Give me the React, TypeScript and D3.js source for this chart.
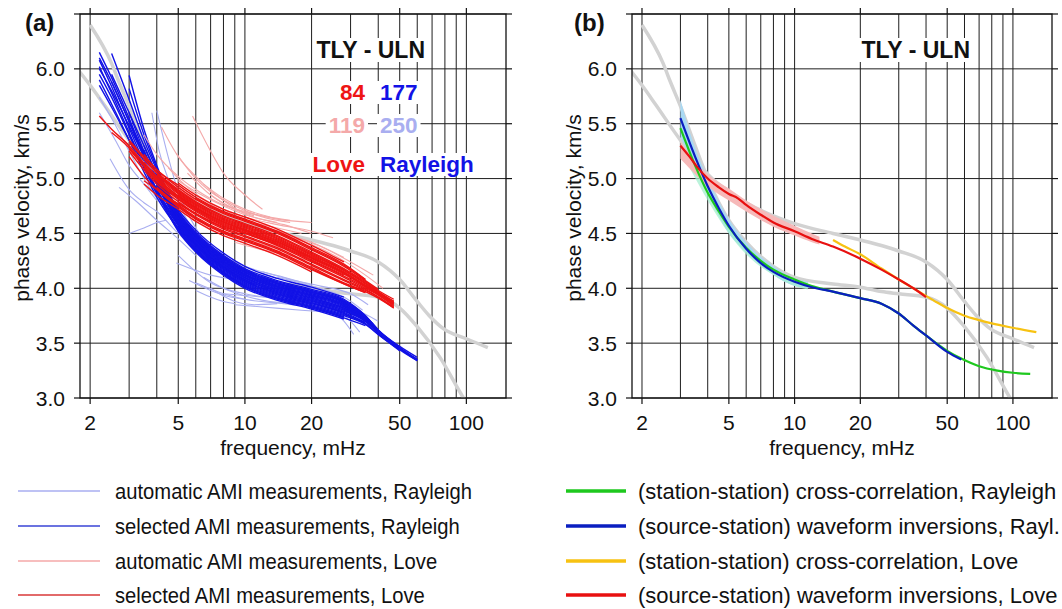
import React, { useEffect, useRef } from "react";
import * as d3 from "d3";

type Pt = [number, number];

// ---------- axes ----------
const freqDomain: [number, number] = [1.8, 151];
const velDomain: [number, number] = [3.0, 6.5];
const xMajor = [2, 5, 10, 20, 50, 100];
const xGrid = [2, 3, 4, 5, 6, 7, 8, 9, 10, 20, 30, 40, 50, 60, 70, 80, 90, 100];
const yGrid = [3.0, 3.5, 4.0, 4.5, 5.0, 5.5, 6.0, 6.5];
const yLabeled = [3.0, 3.5, 4.0, 4.5, 5.0, 5.5, 6.0];

// ---------- reference (gray) curves ----------
const refRayleigh: Pt[] = [
  [2, 6.4], [2.5, 6.05], [2.7, 5.88], [3, 5.66], [3.5, 5.3], [4, 5.0], [5, 4.62], [6, 4.42],
  [8, 4.2], [10, 4.1], [15, 4.04], [20, 4.01], [25, 3.97], [30, 3.95], [40, 3.92], [50, 3.82],
  [60, 3.65], [76, 3.37], [97, 3.0], [102, 2.93],
];
const refLove: Pt[] = [
  [1.75, 6.0], [2, 5.85], [2.3, 5.68], [3, 5.35], [3.5, 5.18], [4, 5.04], [5, 4.88], [6, 4.78],
  [8, 4.66], [10, 4.59], [15, 4.5], [20, 4.44], [25, 4.39], [30, 4.34], [40, 4.24], [50, 4.08],
  [60, 3.88], [68, 3.75], [79, 3.63], [100, 3.54], [125, 3.46],
];

// ---------- panel (a): selected AMI, Rayleigh (grid-based: [startIndex, ...values]) ----------
const rayGrid = [2.2, 2.5, 3, 3.5, 4, 5, 6, 8, 10, 14, 20, 28, 35, 40, 50, 60];
const selectedRayleigh: number[][] = [
  [0, 6.15, 5.92, 5.55, 5.22, 4.97, 4.64, 4.45, 4.24, 4.12, 4.01, 3.93, 3.84, 3.72, 3.61, 3.45, 3.35],
  [0, 6.08, 5.84, 5.46, 5.15, 4.9, 4.6, 4.41, 4.2, 4.08, 3.97, 3.89, 3.8, 3.7, 3.6, 3.45],
  [0, 6.1, 5.88, 5.52, 5.24, 5.0, 4.67, 4.48, 4.27, 4.15, 4.04, 3.96, 3.87, 3.73, 3.61],
  [0, 6.02, 5.78, 5.42, 5.12, 4.88, 4.57, 4.38, 4.17, 4.05, 3.94, 3.86, 3.77, 3.68],
  [0, 5.9, 5.68, 5.35, 5.06, 4.83, 4.54, 4.35, 4.14, 4.02, 3.91, 3.83, 3.74],
  [1, 6.14, 5.72, 5.35, 5.08, 4.7, 4.51, 4.3, 4.18, 4.07, 3.99, 3.9, 3.75, 3.62, 3.46],
  [2, 5.94, 5.45, 5.12, 4.65, 4.46, 4.25, 4.13, 4.02, 3.94, 3.85, 3.72, 3.61, 3.46, 3.35],
  [0, 5.95, 5.74, 5.4, 5.1, 4.86, 4.55, 4.36, 4.15, 4.03, 3.92, 3.84, 3.75, 3.67, 3.58, 3.43],
  [1, 5.95, 5.6, 5.3, 5.03, 4.68, 4.49, 4.28, 4.16, 4.05, 3.97, 3.88, 3.74, 3.62],
  [2, 5.82, 5.4, 5.1, 4.72, 4.53, 4.32, 4.2, 4.09, 4.01, 3.92],
  [0, 6.0, 5.8, 5.48, 5.2, 4.95, 4.62, 4.43, 4.22, 4.1, 3.99, 3.91, 3.82, 3.71, 3.6, 3.45, 3.34],
  [2, 5.6, 5.25, 4.98, 4.59, 4.4, 4.19, 4.07, 3.96, 3.88, 3.79, 3.7, 3.59, 3.44],
  [3, 5.3, 5.04, 4.66, 4.47, 4.26, 4.14, 4.03, 3.95, 3.86, 3.73, 3.61, 3.46],
  [3, 5.12, 4.88, 4.52, 4.33, 4.12, 4.0, 3.89, 3.81, 3.72],
  [4, 5.05, 4.69, 4.5, 4.29, 4.17, 4.06, 3.98, 3.89, 3.75, 3.62, 3.47, 3.37],
  [4, 4.88, 4.53, 4.34, 4.13, 4.01, 3.9, 3.82, 3.73, 3.66],
  [2, 5.52, 5.2, 4.95, 4.63, 4.44, 4.23, 4.11, 4.0, 3.92, 3.83, 3.71, 3.6, 3.45, 3.35],
  [1, 5.88, 5.52, 5.22, 4.97, 4.65, 4.46, 4.25, 4.13, 4.02, 3.94, 3.85, 3.72, 3.61, 3.46],
  [3, 5.26, 4.99, 4.67, 4.48, 4.27, 4.15, 4.04, 3.96, 3.87, 3.73, 3.61],
  [4, 5.0, 4.64, 4.45, 4.24, 4.12, 4.01, 3.93, 3.84, 3.72, 3.6, 3.45, 3.35],
  [5, 4.68, 4.49, 4.28, 4.16, 4.05, 3.97, 3.88, 3.74, 3.62],
  [5, 4.56, 4.37, 4.16, 4.04, 3.93, 3.85, 3.76, 3.68, 3.58, 3.44],
  [2, 5.4, 5.12, 4.9, 4.58, 4.39, 4.18, 4.06, 3.95, 3.87, 3.78],
  [0, 5.85, 5.65, 5.35, 5.1, 4.89, 4.58, 4.39, 4.18, 4.06, 3.95, 3.87, 3.78, 3.69],
  [3, 5.18, 4.95, 4.62, 4.43, 4.22, 4.1, 3.99, 3.91, 3.82, 3.71, 3.6, 3.45, 3.35],
  [4, 4.97, 4.6, 4.41, 4.2, 4.08, 3.97, 3.89, 3.8, 3.7, 3.6, 3.44, 3.34],
  [5, 4.54, 4.35, 4.14, 4.02, 3.91, 3.83, 3.74],
  [4, 4.93, 4.61, 4.42, 4.21, 4.09, 3.98, 3.9, 3.81, 3.71, 3.6, 3.45],
];

// ---------- panel (a): selected AMI, Love ----------
const loveGrid = [2.2, 2.5, 3, 3.5, 4, 5, 6, 8, 10, 14, 20, 28, 35, 40, 47];
const selectedLove: number[][] = [
  [0, 5.57, 5.45, 5.3, 5.14, 5.01, 4.84, 4.73, 4.6, 4.53, 4.42, 4.28, 4.14, 4.02, 3.95, 3.86],
  [2, 5.33, 5.18, 5.05, 4.89, 4.78, 4.65, 4.58, 4.47, 4.32, 4.17, 4.05, 3.97, 3.88],
  [2, 5.25, 5.08, 4.95, 4.79, 4.68, 4.55, 4.48, 4.37, 4.22, 4.08, 3.99, 3.92, 3.83],
  [3, 5.22, 5.08, 4.94, 4.83, 4.7, 4.63, 4.52, 4.37, 4.22, 4.08],
  [2, 5.2, 5.02, 4.9, 4.74, 4.63, 4.5, 4.43, 4.32, 4.17, 4.04, 3.96],
  [4, 5.03, 4.87, 4.76, 4.63, 4.56, 4.45, 4.3, 4.16, 4.04, 3.96, 3.87],
  [3, 5.1, 4.97, 4.81, 4.7, 4.57, 4.5, 4.39, 4.24, 4.1, 4.0, 3.94, 3.85],
  [2, 5.35, 5.2, 5.08, 4.92, 4.81, 4.68, 4.61, 4.5, 4.35, 4.2, 4.07, 3.99],
  [4, 4.92, 4.76, 4.65, 4.52, 4.45, 4.34, 4.19, 4.05, 3.97, 3.91, 3.82],
  [5, 4.85, 4.74, 4.61, 4.54, 4.43, 4.28, 4.14, 4.02, 3.95, 3.87],
  [3, 4.95, 4.85, 4.72, 4.61, 4.48, 4.41, 4.3, 4.15],
  [5, 4.96, 4.85, 4.72, 4.65, 4.54, 4.39, 4.24],
  [2, 5.28, 5.12, 5.0, 4.84, 4.73, 4.6, 4.53, 4.42, 4.27, 4.13, 4.02, 3.95, 3.86],
  [3, 5.18, 5.06, 4.9, 4.79, 4.66, 4.59, 4.48, 4.33, 4.18, 4.06, 3.98, 3.9],
  [5, 4.78, 4.67, 4.54, 4.47, 4.36, 4.21, 4.07, 3.98, 3.92, 3.82],
  [4, 5.04, 4.88, 4.77, 4.64, 4.57, 4.46, 4.31, 4.17],
  [2, 5.27, 5.11, 4.98, 4.82, 4.71, 4.58, 4.51, 4.4, 4.25, 4.11, 4.01, 3.94, 3.84],
  [6, 4.82, 4.69, 4.62, 4.51, 4.36, 4.21, 4.08],
  [4, 4.91, 4.75, 4.64, 4.51, 4.44, 4.33, 4.18, 4.04, 3.96],
  [3, 5.15, 5.02, 4.86, 4.75, 4.62, 4.55, 4.44, 4.29, 4.15, 4.03, 3.96, 3.88],
  [3, 4.98, 4.9, 4.77, 4.68, 4.56, 4.5, 4.4],
  [1, 5.42, 5.28, 5.12, 4.99, 4.83, 4.72, 4.59, 4.52, 4.41, 4.26, 4.12],
];

// ---------- panel (a): automatic AMI, Rayleigh ----------
const autoRayleigh: Pt[][] = [
  [[2.2, 5.74], [2.5, 5.55], [3, 5.25], [3.5, 5.0], [4, 4.82], [5, 4.55]],
  [[2.46, 5.18], [3, 4.9], [3.5, 4.78], [4, 4.7], [5, 4.5], [6, 4.35]],
  [[4, 5.62], [4.5, 5.2], [5, 4.88], [6, 4.55], [8, 4.27], [10, 4.14]],
  [[3, 4.5], [3.5, 4.55], [4, 4.6], [4.4, 4.62]],
  [[2.7, 4.92], [3.2, 4.8], [4, 4.62], [5, 4.45], [6, 4.3]],
  [[4.9, 4.23], [7, 4.12], [10, 4.07], [15, 4.03], [21, 4.0]],
  [[5.6, 4.07], [7, 3.98], [8.6, 3.92], [10, 3.9]],
  [[6, 4.05], [8, 3.95], [10, 3.9], [15, 3.86], [20, 3.83], [30, 3.8]],
  [[5, 4.3], [7, 4.05], [10, 3.95], [15, 3.9], [20, 3.86], [28, 3.8], [35, 3.72]],
  [[7, 4.0], [9, 3.88], [11, 3.85], [14, 3.86]],
  [[8, 3.95], [12, 3.92], [20, 3.87], [30, 3.82], [40, 3.7]],
  [[9, 3.85], [12, 3.83], [18, 3.8], [25, 3.78]],
  [[5, 4.55], [6, 4.35], [8, 4.2], [10, 4.12], [14, 4.05], [20, 3.98], [28, 3.9]],
  [[4.5, 4.7], [5, 4.6], [7, 4.36], [10, 4.2], [15, 4.1], [20, 4.03]],
  [[12, 4.15], [16, 4.08], [22, 4.02], [30, 3.95], [36, 3.85]],
  [[25, 3.8], [28, 3.7], [31, 3.58]],
  [[20, 3.88], [26, 3.8], [30, 3.7], [33, 3.6]],
  [[3.8, 5.6], [4.1, 5.25], [4.5, 5.0], [5, 4.78], [6, 4.5], [7, 4.35]],
  [[2.2, 5.6], [2.6, 5.35], [3, 5.12], [3.5, 4.95], [4, 4.8]],
  [[6.5, 4.1], [8, 4.0], [10, 3.93], [13, 3.88], [17, 3.86]],
  [[10, 4.0], [15, 3.93], [20, 3.88], [30, 3.8], [38, 3.68]],
  [[6, 3.98], [7, 3.92], [8, 3.88], [9, 3.86]],
  [[14, 4.1], [20, 4.02], [28, 3.92], [34, 3.8]],
  [[3.2, 5.3], [3.6, 5.05], [4, 4.85], [5, 4.6]],
];

// ---------- panel (a): automatic AMI, Love ----------
const autoLove: Pt[][] = [
  [[5.8, 5.57], [7, 5.25], [8, 5.05], [10, 4.85], [12, 4.72]],
  [[4.2, 5.47], [5, 5.2], [6, 5.02], [8, 4.8], [10, 4.68], [14, 4.6]],
  [[4.9, 5.23], [6, 5.0], [7, 4.88], [9, 4.75], [12, 4.65], [16, 4.6]],
  [[3.5, 5.4], [4, 5.22], [5, 5.02], [6, 4.9], [8, 4.76], [10, 4.7], [14, 4.63], [20, 4.6]],
  [[5, 4.98], [6, 4.88], [8, 4.75], [10, 4.67], [15, 4.58], [20, 4.5]],
  [[6, 4.85], [8, 4.7], [10, 4.62], [14, 4.55], [18, 4.5]],
  [[4.5, 5.1], [5, 5.0], [6, 4.86], [8, 4.72], [10, 4.62], [15, 4.5], [20, 4.42], [28, 4.28]],
  [[7, 4.85], [9, 4.72], [12, 4.66], [16, 4.62]],
  [[8, 4.72], [10, 4.65], [14, 4.58], [20, 4.52], [25, 4.46]],
  [[10, 4.45], [14, 4.38], [20, 4.28], [28, 4.16], [35, 4.05]],
  [[9, 4.42], [12, 4.35], [16, 4.3], [22, 4.22]],
  [[6, 4.62], [8, 4.52], [10, 4.45], [14, 4.36]],
  [[12, 4.55], [16, 4.48], [22, 4.38], [30, 4.24], [38, 4.12]],
  [[3, 5.3], [3.5, 5.15], [4, 5.05], [5, 4.9], [6, 4.8]],
  [[5.5, 5.05], [7, 4.85], [9, 4.72], [11, 4.66]],
  [[14, 4.5], [20, 4.4], [28, 4.25], [35, 4.12], [42, 4.0]],
  [[6.5, 4.95], [8, 4.82], [10, 4.72], [13, 4.65]],
  [[20, 4.2], [25, 4.12], [30, 4.05]],
];

// ---------- panel (b) ----------
const ccRayleigh: Pt[] = [
  [3, 5.46], [3.5, 5.12], [4, 4.87], [4.5, 4.7], [5, 4.56], [6, 4.37], [7, 4.25], [8, 4.17],
  [10, 4.08], [12, 4.02], [15, 3.97], [20, 3.91], [25, 3.86], [30, 3.77], [35, 3.66], [40, 3.57],
  [50, 3.43], [58, 3.36], [70, 3.29], [85, 3.25], [100, 3.23], [120, 3.22],
];
const wfRayleigh: Pt[] = [
  [3, 5.55], [3.5, 5.2], [4, 4.93], [4.5, 4.73], [5, 4.57], [6, 4.36], [7, 4.23], [8, 4.15],
  [10, 4.06], [12, 4.01], [15, 3.97], [20, 3.91], [25, 3.86], [30, 3.77], [35, 3.66], [40, 3.57],
  [50, 3.42], [58, 3.35],
];
const ccLove: Pt[] = [
  [15, 4.44], [17, 4.38], [20, 4.31], [25, 4.18], [30, 4.08], [35, 4.0], [40, 3.93], [45, 3.87],
  [50, 3.82], [60, 3.75], [70, 3.71], [80, 3.68], [100, 3.64], [128, 3.6],
];
const wfLove: Pt[] = [
  [3, 5.3], [3.3, 5.2], [3.6, 5.1], [4, 5.0], [4.5, 4.92], [5, 4.86], [5.5, 4.82], [6, 4.76],
  [7, 4.67], [8, 4.6], [10, 4.52], [12, 4.45], [15, 4.38], [20, 4.27], [25, 4.17], [30, 4.08],
  [35, 4.0], [40, 3.92],
];
// uncertainty bands
const bandRayFreq = [3, 3.5, 4, 5, 6, 8, 10, 11.5];
const bandRayUpper = [5.72, 5.28, 5.0, 4.63, 4.42, 4.2, 4.09, 4.06];
const bandRayLower = [5.38, 5.1, 4.86, 4.5, 4.33, 4.12, 4.02, 4.0];
const bandCcFreq = [3.3, 4, 5, 6, 8, 10, 11.5];
const bandCcUpper = [5.25, 4.9, 4.58, 4.39, 4.18, 4.08, 4.05];
const bandCcLower = [5.1, 4.8, 4.5, 4.31, 4.12, 4.02, 3.99];
const bandLoveFreq = [3, 3.5, 4, 5, 6, 8, 10, 12, 13];
const bandLoveUpper = [5.34, 5.16, 5.04, 4.91, 4.8, 4.66, 4.57, 4.5, 4.47];
const bandLoveLower = [5.18, 5.04, 4.93, 4.8, 4.7, 4.56, 4.48, 4.42, 4.4];

// ---------- labels ----------
const stationPair = "TLY - ULN";
const countsSelected = ["84", "177"];
const countsAuto = ["119", "250"];
const waveTypes = ["Love", "Rayleigh"];
const legendLeft = [
  "automatic AMI measurements, Rayleigh",
  "selected AMI measurements, Rayleigh",
  "automatic AMI measurements, Love",
  "selected AMI measurements, Love",
];
const legendRight = [
  "(station-station) cross-correlation, Rayleigh",
  "(source-station) waveform inversions, Rayl.",
  "(station-station) cross-correlation, Love",
  "(source-station) waveform inversions, Love",
];

const C = {
  selR: "#1212e6",
  autoR: "#a9aef0",
  selL: "#ee1414",
  autoL: "#f4a9a9",
  gray: "#d2d2d2",
  green: "#1ec81e",
  blue: "#0a1ec0",
  orange: "#f7c212",
  red: "#e81010",
  bandBlue: "#a9d9f3",
  bandMint: "#a4efcf",
  bandPink: "#f6b9b9",
  grid: "#1e1e1e",
};

const FONT = "'Liberation Sans', Arial, Helvetica, sans-serif";

function gridCurve(grid: number[], row: number[]): Pt[] {
  const start = row[0];
  return row.slice(1).map((v, i) => [grid[start + i], v] as Pt);
}

export default function App() {
  const ref = useRef<SVGSVGElement>(null);

  useEffect(() => {
    document.body.style.margin = "0";
    const svg = d3.select(ref.current!);
    svg.selectAll("*").remove();
    const defs = svg.append("defs");

    const Y0 = 14;
    const Y1 = 398;

    const panels = [
      { id: "a", x0: 80, x1: 506, letter: "(a)", letterX: 25, titleEnd: 425, yLabelX: 22, tickEnd: 65 },
      { id: "b", x0: 632, x1: 1052, letter: "(b)", letterX: 574, titleEnd: 970, yLabelX: 574, tickEnd: 617 },
    ];

    const labelBox = (
      g: d3.Selection<SVGGElement, unknown, null, undefined>,
      txt: string,
      x: number,
      y: number,
      anchor: string,
      color: string,
      size: number
    ) => {
      const bg = g.append("rect").attr("fill", "#fff");
      const t = g
        .append("text")
        .attr("x", x)
        .attr("y", y)
        .attr("text-anchor", anchor)
        .attr("font-family", FONT)
        .attr("font-weight", "bold")
        .attr("font-size", size)
        .attr("fill", color)
        .text(txt);
      const bb = (t.node() as SVGTextElement).getBBox();
      bg.attr("x", bb.x - 3).attr("y", bb.y + 1).attr("width", bb.width + 6).attr("height", bb.height - 2);
    };

    panels.forEach((p) => {
      const xs = d3.scaleLog().domain(freqDomain).range([p.x0, p.x1]);
      const ys = d3.scaleLinear().domain(velDomain).range([Y1, Y0]);
      const line = d3
        .line<Pt>()
        .x((d) => xs(d[0]))
        .y((d) => ys(d[1]))
        .curve(d3.curveMonotoneX);
      const area = (f: number[], up: number[], lo: number[]) =>
        d3
          .area<number>()
          .x((_, i) => xs(f[i]))
          .y0((_, i) => ys(lo[i]))
          .y1((_, i) => ys(up[i]))
          .curve(d3.curveMonotoneX)(f);

      defs
        .append("clipPath")
        .attr("id", "clip-" + p.id)
        .append("rect")
        .attr("x", p.x0)
        .attr("y", Y0)
        .attr("width", p.x1 - p.x0)
        .attr("height", Y1 - Y0);

      const g = svg.append("g");

      // grid
      xGrid.forEach((f) => {
        g.append("line")
          .attr("x1", xs(f)).attr("x2", xs(f))
          .attr("y1", Y0).attr("y2", Y1)
          .attr("stroke", C.grid).attr("stroke-width", 1);
      });
      yGrid.forEach((v) => {
        g.append("line")
          .attr("x1", p.x0).attr("x2", p.x1)
          .attr("y1", ys(v)).attr("y2", ys(v))
          .attr("stroke", C.grid).attr("stroke-width", 1);
      });

      // curves
      const cg = g.append("g").attr("clip-path", `url(#clip-${p.id})`);
      const drawLine = (pts: Pt[], color: string, w: number) =>
        cg.append("path").attr("d", line(pts)).attr("fill", "none")
          .attr("stroke", color).attr("stroke-width", w)
          .attr("stroke-linejoin", "round").attr("stroke-linecap", "butt");

      drawLine(refRayleigh, C.gray, 3.5);
      drawLine(refLove, C.gray, 3.5);

      if (p.id === "a") {
        autoRayleigh.forEach((c) => drawLine(c, C.autoR, 1.1));
        selectedRayleigh.forEach((r) => drawLine(gridCurve(rayGrid, r), C.selR, 1.4));
        autoLove.forEach((c) => drawLine(c, C.autoL, 1.1));
        selectedLove.forEach((r) => drawLine(gridCurve(loveGrid, r), C.selL, 1.4));
      } else {
        cg.append("path").attr("d", area(bandRayFreq, bandRayUpper, bandRayLower)).attr("fill", C.bandBlue);
        cg.append("path").attr("d", area(bandCcFreq, bandCcUpper, bandCcLower)).attr("fill", C.bandMint).attr("opacity", 0.75);
        cg.append("path").attr("d", area(bandLoveFreq, bandLoveUpper, bandLoveLower)).attr("fill", C.bandPink);
        drawLine(ccRayleigh, C.green, 2.2);
        drawLine(wfRayleigh, C.blue, 2.2);
        drawLine(ccLove, C.orange, 2.2);
        drawLine(wfLove, C.red, 2.2);
      }

      // frame
      g.append("rect")
        .attr("x", p.x0).attr("y", Y0)
        .attr("width", p.x1 - p.x0).attr("height", Y1 - Y0)
        .attr("fill", "none").attr("stroke", "#111").attr("stroke-width", 1.3);

      // ticks
      xMajor.forEach((f) => {
        g.append("line").attr("x1", xs(f)).attr("x2", xs(f)).attr("y1", Y1).attr("y2", Y1 + 6)
          .attr("stroke", "#111").attr("stroke-width", 1.2);
        g.append("line").attr("x1", xs(f)).attr("x2", xs(f)).attr("y1", Y0 - 6).attr("y2", Y0)
          .attr("stroke", "#111").attr("stroke-width", 1.2);
        g.append("text")
          .attr("x", xs(f)).attr("y", Y1 + 32)
          .attr("text-anchor", "middle")
          .attr("font-family", FONT).attr("font-size", 21).attr("fill", "#111")
          .text(String(f));
      });
      yGrid.forEach((v) => {
        g.append("line").attr("x1", p.x0 - 6).attr("x2", p.x0).attr("y1", ys(v)).attr("y2", ys(v))
          .attr("stroke", "#111").attr("stroke-width", 1.2);
        g.append("line").attr("x1", p.x1).attr("x2", p.x1 + 6).attr("y1", ys(v)).attr("y2", ys(v))
          .attr("stroke", "#111").attr("stroke-width", 1.2);
      });
      yLabeled.forEach((v) => {
        g.append("text")
          .attr("x", p.tickEnd).attr("y", ys(v) + 7.5)
          .attr("text-anchor", "end")
          .attr("font-family", FONT).attr("font-size", 21).attr("fill", "#111")
          .text(v.toFixed(1));
      });

      // axis titles
      g.append("text")
        .attr("transform", `translate(${p.yLabelX + 7},${208}) rotate(-90)`)
        .attr("text-anchor", "middle")
        .attr("font-family", FONT).attr("font-size", 21).attr("fill", "#111")
        .text("phase velocity, km/s");
      g.append("text")
        .attr("x", (p.x0 + p.x1) / 2).attr("y", 455)
        .attr("text-anchor", "middle")
        .attr("font-family", FONT).attr("font-size", 21).attr("fill", "#111")
        .text("frequency, mHz");

      // panel letter
      g.append("text")
        .attr("x", p.letterX).attr("y", 31)
        .attr("font-family", FONT).attr("font-weight", "bold").attr("font-size", 24).attr("fill", "#111")
        .text(p.letter);

      labelBox(g, stationPair, p.titleEnd, 58, "end", "#111", 23);
      if (p.id === "a") {
        labelBox(g, countsSelected[0], 365, 100, "end", C.selL, 22.5);
        labelBox(g, countsSelected[1], 380, 100, "start", C.selR, 22.5);
        labelBox(g, countsAuto[0], 365, 133, "end", C.autoL, 22.5);
        labelBox(g, countsAuto[1], 380, 133, "start", C.autoR, 22.5);
        labelBox(g, waveTypes[0], 365, 172, "end", C.selL, 22.5);
        labelBox(g, waveTypes[1], 380, 172, "start", C.selR, 22.5);
      }
    });

    // legend
    const lg = svg.append("g");
    const rowsY = [491, 526, 561, 595];
    const leftColors = [C.autoR, "#3a44d6", C.autoL, "#d83838"];
    const rightColors = [C.green, C.blue, C.orange, C.red];
    legendLeft.forEach((txt, i) => {
      lg.append("line").attr("x1", 18).attr("x2", 100).attr("y1", rowsY[i]).attr("y2", rowsY[i])
        .attr("stroke", leftColors[i]).attr("stroke-width", 1.4);
      const t = lg.append("text").attr("x", 115).attr("y", rowsY[i] + 7.5)
        .attr("font-family", FONT).attr("font-size", 22).attr("fill", "#111").text(txt);
      const natural = (t.node() as SVGTextElement).getComputedTextLength();
      t.attr("textLength", natural * 0.918).attr("lengthAdjust", "spacingAndGlyphs");
    });
    legendRight.forEach((txt, i) => {
      lg.append("line").attr("x1", 566).attr("x2", 626).attr("y1", rowsY[i]).attr("y2", rowsY[i])
        .attr("stroke", rightColors[i]).attr("stroke-width", 3.5);
      lg.append("text").attr("x", 638).attr("y", rowsY[i] + 7.5)
        .attr("font-family", FONT).attr("font-size", 22).attr("fill", "#111").text(txt);
    });
  }, []);

  return <svg ref={ref} width={1062} height={609} style={{ display: "block", background: "#fff" }} />;
}
